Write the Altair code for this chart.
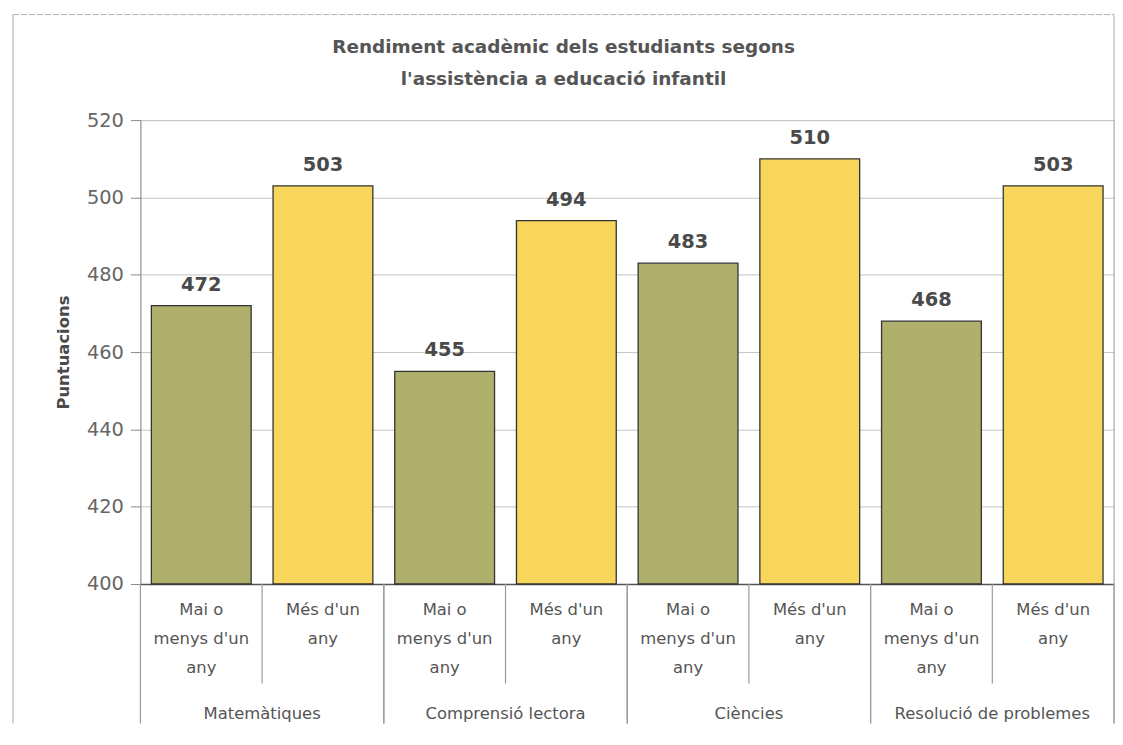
import altair as alt
import pandas as pd

subjects = ["Matemàtiques", "Comprensió lectora", "Ciències", "Resolució de problemes"]
groups = ["Mai o menys d'un any", "Més d'un any"]
group_labels = ["Mai o\nmenys d'un\nany", "Més d'un\nany"]
vals_mai = [472, 455, 483, 468]
vals_mes = [503, 494, 510, 503]

rows = []
for i, s in enumerate(subjects):
    for j, (g, gl, v) in enumerate(zip(groups, group_labels, [vals_mai[i], vals_mes[i]])):
        rows.append({"key": f"{i}-{j}", "subject": s, "group": g, "glabel": gl,
                     "value": v, "first": j == 0})
df = pd.DataFrame(rows)
order = list(df["key"])

W, H = 978, 466
FONT = "DejaVu Sans"
GREEN = "#aeb06c"
YELLOW = "#f8d65c"

xscale = alt.Scale(domain=order, paddingInner=0, paddingOuter=0)
yscale = alt.Scale(domain=[400, 520], nice=False, zero=False)

base = alt.Chart(df)

bars = base.mark_bar(width={"band": 0.82}, stroke="#333333", strokeWidth=1.3).encode(
    x=alt.X("key:N", scale=xscale, sort=order,
            axis=alt.Axis(title=None, labels=False, ticks=False, domain=True,
                          domainColor="#555555", domainWidth=1.5, grid=False)),
    y=alt.Y("value:Q", scale=yscale,
            axis=alt.Axis(title="Puntuacions", values=[400, 420, 440, 460, 480, 500, 520],
                          labelFont=FONT, labelFontSize=19.5, labelColor="#666666",
                          labelPadding=7, tickSize=10, tickColor="#888888",
                          domainColor="#888888", gridColor="#c4c4c4",
                          titleFont=FONT, titleFontSize=16.5, titleFontWeight="bold",
                          titleColor="#4a4a4a", titlePadding=15)),
    y2=alt.datum(400),
    color=alt.Color("group:N", scale=alt.Scale(domain=groups, range=[GREEN, YELLOW]),
                    legend=None),
)

value_labels = base.mark_text(font=FONT, fontSize=19.5, fontWeight="bold", color="#4a4a4a",
                              baseline="bottom", dy=-11).encode(
    x=alt.X("key:N", scale=xscale, sort=order),
    y=alt.Y("value:Q", scale=yscale),
    text=alt.Text("value:Q"),
)

cat_labels = base.mark_text(font=FONT, fontSize=16.5, color="#555555", baseline="top",
                            lineBreak="\n", lineHeight=29).encode(
    x=alt.X("key:N", scale=xscale, sort=order),
    y=alt.value(H + 18),
    text="glabel:N",
)

firsts = base.transform_filter("datum.first")
lasts = base.transform_filter("!datum.first")

subj_labels = firsts.mark_text(font=FONT, fontSize=16.5, color="#555555",
                               baseline="middle").encode(
    x=alt.X("key:N", scale=xscale, sort=order, bandPosition=1),
    y=alt.value(597),
    text="subject:N",
)

inner_sep = firsts.mark_rule(color="#9a9a9a", strokeWidth=1.2).encode(
    x=alt.X("key:N", scale=xscale, sort=order, bandPosition=1),
    y=alt.value(H), y2=alt.value(566),
)
group_sep_a = firsts.mark_rule(color="#9a9a9a", strokeWidth=1.2).encode(
    x=alt.X("key:N", scale=xscale, sort=order, bandPosition=0),
    y=alt.value(H), y2=alt.value(606),
)
group_sep_b = lasts.mark_rule(color="#9a9a9a", strokeWidth=1.2).encode(
    x=alt.X("key:N", scale=xscale, sort=order, bandPosition=1),
    y=alt.value(H), y2=alt.value(606),
)

frame_df = pd.DataFrame({"f": [0]})
frame_top = alt.Chart(frame_df).mark_rule(color="#b0b0b0", strokeWidth=1, strokeDash=[6, 2]).encode(
    x=alt.value(-128), x2=alt.value(978), y=alt.value(-106))
frame_left = alt.Chart(frame_df).mark_rule(color="#a8a8a8", strokeWidth=1).encode(
    x=alt.value(-128), y=alt.value(-106), y2=alt.value(606))
frame_right = alt.Chart(frame_df).mark_rule(color="#a8a8a8", strokeWidth=1).encode(
    x=alt.value(978), y=alt.value(-106), y2=alt.value(606))

chart = alt.layer(
    frame_top, frame_left, frame_right,
    bars, value_labels, cat_labels, subj_labels, inner_sep, group_sep_a, group_sep_b,
).properties(
    width=W, height=H,
    title=alt.TitleParams(
        text=["Rendiment acadèmic dels estudiants segons", "l'assistència a educació infantil"],
        font=FONT, fontSize=18.5, fontWeight="bold", color="#555555",
        anchor="middle", frame="bounds", lineHeight=32, offset=-75,
    ),
    padding={"left": 4, "top": 4, "right": 0, "bottom": 0},
).configure_view(stroke="#b8b8b8", strokeWidth=1).configure(background="white")

chart.save("out.html", embed_options={"renderer": "svg", "actions": False})
